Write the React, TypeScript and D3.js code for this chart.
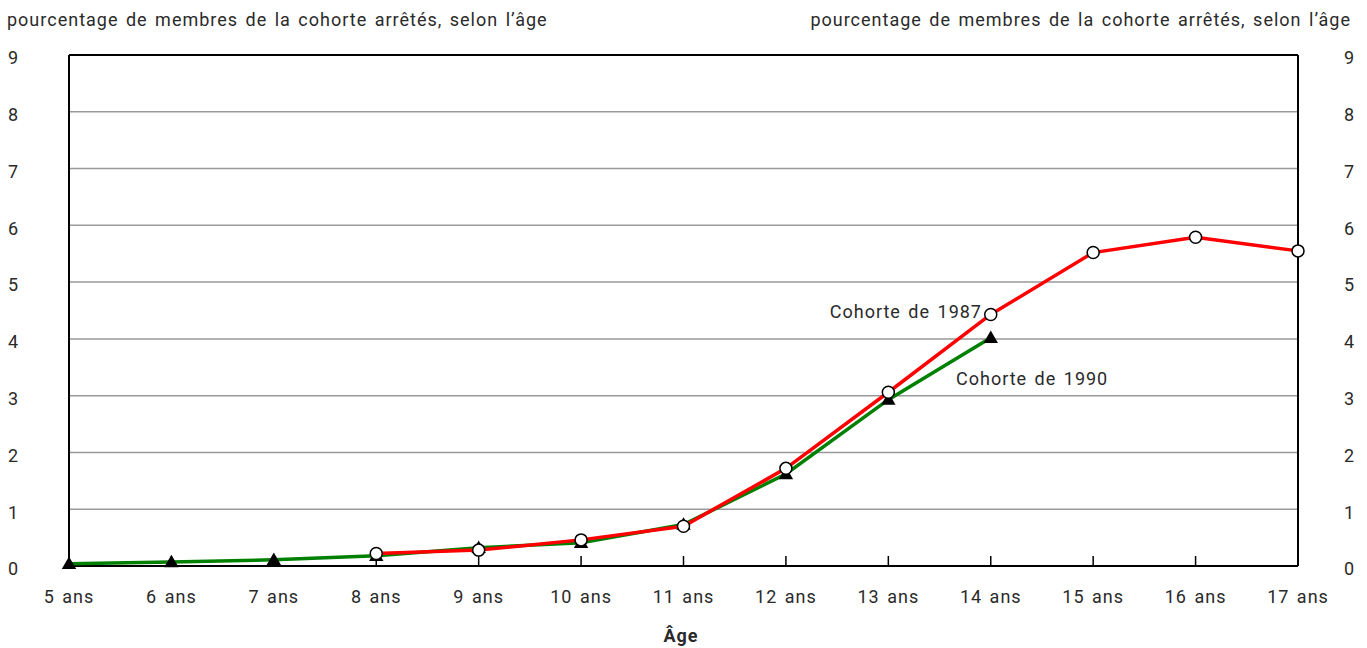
import React from "react";
import * as d3 from "d3";

const ages = ["5 ans", "6 ans", "7 ans", "8 ans", "9 ans", "10 ans", "11 ans", "12 ans", "13 ans", "14 ans", "15 ans", "16 ans", "17 ans"];
const cohort1987: (number | null)[] = [null, null, null, 0.22, 0.28, 0.46, 0.7, 1.72, 3.06, 4.43, 5.52, 5.79, 5.55];
const cohort1990: (number | null)[] = [0.04, 0.07, 0.11, 0.18, 0.32, 0.41, 0.73, 1.62, 2.93, 4.02, null, null, null];
const yTicks = [0, 1, 2, 3, 4, 5, 6, 7, 8, 9];
const yTitle = "pourcentage de membres de la cohorte arrêtés, selon l’âge";
const xTitle = "Âge";
const label1987 = "Cohorte de 1987";
const label1990 = "Cohorte de 1990";

const W = 1367, H = 648;
const M = { left: 69, right: 1298, top: 55, bottom: 566 };
const FONT = "Roboto, sans-serif";
const TXT = "#2a2a2a";
const textStyle = { letterSpacing: "1px", wordSpacing: "2px" };

export default function App() {
  const x = d3.scalePoint<string>().domain(ages).range([M.left, M.right]);
  const y = d3.scaleLinear().domain([0, 9]).range([M.bottom, M.top]);
  type P = { a: string; v: number };
  const pts = (arr: (number | null)[]): P[] =>
    arr.map((v, i) => ({ a: ages[i], v })).filter((d) => d.v !== null) as P[];
  const p87 = pts(cohort1987);
  const p90 = pts(cohort1990);
  const line = d3.line<P>().x((d) => x(d.a)!).y((d) => y(d.v));
  const tri = d3.symbol().type(d3.symbolTriangle).size(90)()!;

  return (
    <svg width={W} height={H} style={{ position: "absolute", left: 0, top: 0, fontFamily: FONT }}>
      <rect width={W} height={H} fill="#fff" />
      {yTicks.filter((t) => t > 0 && t < 9).map((t) => (
        <line key={t} x1={M.left} x2={M.right} y1={y(t)} y2={y(t)} stroke="#999" strokeWidth={1.5} />
      ))}
      <line x1={M.left} x2={M.right} y1={y(9)} y2={y(9)} stroke="#000" strokeWidth={2} />
      <line x1={M.left} x2={M.right} y1={y(0)} y2={y(0)} stroke="#000" strokeWidth={2} />
      <line x1={M.left} x2={M.left} y1={y(0)} y2={y(9)} stroke="#000" strokeWidth={2} />
      <line x1={M.right} x2={M.right} y1={y(0)} y2={y(9)} stroke="#000" strokeWidth={2} />
      {ages.map((a) => (
        <line key={a} x1={x(a)} x2={x(a)} y1={y(0)} y2={y(0) - 10} stroke="#000" strokeWidth={1.5} />
      ))}
      {yTicks.map((t) => (
        <g key={t}>
          <text x={13} y={y(t) + 3} dy="0.35em" textAnchor="middle" fontSize={18} fill={TXT}>{t}</text>
          <text x={1349} y={y(t) + 3} dy="0.35em" textAnchor="middle" fontSize={18} fill={TXT}>{t}</text>
        </g>
      ))}
      {ages.map((a) => (
        <text key={a} x={x(a)} y={603} textAnchor="middle" fontSize={18} fill={TXT} style={textStyle}>{a}</text>
      ))}
      <text x={7} y={26} fontSize={18} fill={TXT} style={textStyle}>{yTitle}</text>
      <text x={1351} y={26} textAnchor="end" fontSize={18} fill={TXT} style={textStyle}>{yTitle}</text>
      <text x={681} y={642} textAnchor="middle" fontSize={18} fontWeight="bold" fill={TXT} style={textStyle}>{xTitle}</text>
      <path d={line(p90)!} fill="none" stroke="#008000" strokeWidth={3.5} />
      {p90.map((d) => (
        <path key={d.a} d={tri} transform={`translate(${x(d.a)},${y(d.v) + 1})`} fill="#000" />
      ))}
      <path d={line(p87)!} fill="none" stroke="#ff0000" strokeWidth={3.5} />
      {p87.map((d) => (
        <circle key={d.a} cx={x(d.a)} cy={y(d.v)} r={6} fill="#fff" stroke="#000" strokeWidth={1.5} />
      ))}
      <text x={982} y={318} textAnchor="end" fontSize={18} fill={TXT} style={textStyle}>{label1987}</text>
      <text x={956} y={385} fontSize={18} fill={TXT} style={textStyle}>{label1990}</text>
    </svg>
  );
}
